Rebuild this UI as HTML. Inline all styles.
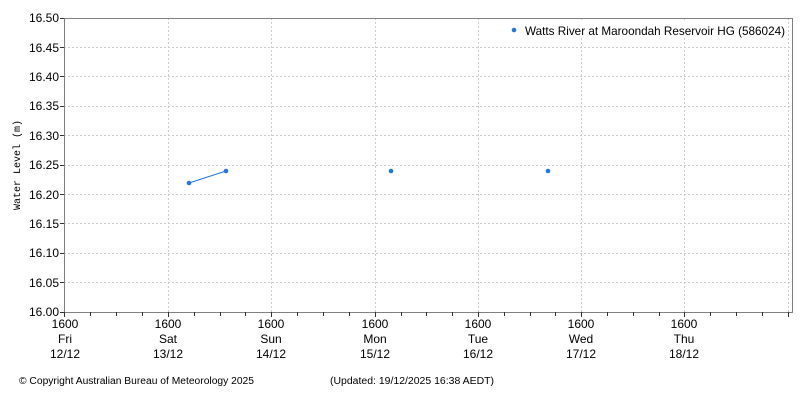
<!DOCTYPE html>
<html><head><style>body{margin:0;background:#fff}svg{display:block;font-family:"Liberation Sans",sans-serif}</style></head><body>
<svg width="800" height="400" xmlns="http://www.w3.org/2000/svg">
<g stroke="#cccccc" stroke-dasharray="2,2" stroke-width="1">
<line x1="64" x2="792" y1="47.5" y2="47.5"/><line x1="64" x2="792" y1="76.5" y2="76.5"/><line x1="64" x2="792" y1="106.5" y2="106.5"/><line x1="64" x2="792" y1="135.5" y2="135.5"/><line x1="64" x2="792" y1="165.5" y2="165.5"/><line x1="64" x2="792" y1="194.5" y2="194.5"/><line x1="64" x2="792" y1="223.5" y2="223.5"/><line x1="64" x2="792" y1="253.5" y2="253.5"/><line x1="64" x2="792" y1="282.5" y2="282.5"/>
<line x1="168.5" x2="168.5" y1="18" y2="312"/><line x1="271.5" x2="271.5" y1="18" y2="312"/><line x1="375.5" x2="375.5" y1="18" y2="312"/><line x1="478.5" x2="478.5" y1="18" y2="312"/><line x1="581.5" x2="581.5" y1="18" y2="312"/><line x1="684.5" x2="684.5" y1="18" y2="312"/><line x1="788.5" x2="788.5" y1="18" y2="312"/>
</g>
<rect x="64.5" y="18.5" width="728" height="294" fill="none" stroke="#808080"/>
<g stroke="#333">
<line x1="60" x2="64" y1="18.5" y2="18.5"/><line x1="60" x2="64" y1="47.5" y2="47.5"/><line x1="60" x2="64" y1="76.5" y2="76.5"/><line x1="60" x2="64" y1="106.5" y2="106.5"/><line x1="60" x2="64" y1="135.5" y2="135.5"/><line x1="60" x2="64" y1="165.5" y2="165.5"/><line x1="60" x2="64" y1="194.5" y2="194.5"/><line x1="60" x2="64" y1="223.5" y2="223.5"/><line x1="60" x2="64" y1="253.5" y2="253.5"/><line x1="60" x2="64" y1="282.5" y2="282.5"/><line x1="60" x2="64" y1="312.5" y2="312.5"/>
<line x1="64.5" x2="64.5" y1="312" y2="317"/><line x1="90.5" x2="90.5" y1="312" y2="316"/><line x1="116.5" x2="116.5" y1="312" y2="316"/><line x1="142.5" x2="142.5" y1="312" y2="316"/>
<line x1="168.5" x2="168.5" y1="312" y2="317"/><line x1="194.5" x2="194.5" y1="312" y2="316"/><line x1="220.5" x2="220.5" y1="312" y2="316"/><line x1="245.5" x2="245.5" y1="312" y2="316"/>
<line x1="271.5" x2="271.5" y1="312" y2="317"/><line x1="297.5" x2="297.5" y1="312" y2="316"/><line x1="323.5" x2="323.5" y1="312" y2="316"/><line x1="349.5" x2="349.5" y1="312" y2="316"/>
<line x1="375.5" x2="375.5" y1="312" y2="317"/><line x1="401.5" x2="401.5" y1="312" y2="316"/><line x1="426.5" x2="426.5" y1="312" y2="316"/><line x1="452.5" x2="452.5" y1="312" y2="316"/>
<line x1="478.5" x2="478.5" y1="312" y2="317"/><line x1="504.5" x2="504.5" y1="312" y2="316"/><line x1="530.5" x2="530.5" y1="312" y2="316"/><line x1="555.5" x2="555.5" y1="312" y2="316"/>
<line x1="581.5" x2="581.5" y1="312" y2="317"/><line x1="607.5" x2="607.5" y1="312" y2="316"/><line x1="633.5" x2="633.5" y1="312" y2="316"/><line x1="659.5" x2="659.5" y1="312" y2="316"/>
<line x1="684.5" x2="684.5" y1="312" y2="317"/><line x1="710.5" x2="710.5" y1="312" y2="316"/><line x1="736.5" x2="736.5" y1="312" y2="316"/><line x1="762.5" x2="762.5" y1="312" y2="316"/>
<line x1="788.5" x2="788.5" y1="312" y2="317"/>
</g>
<g font-size="12" fill="#000" text-anchor="end">
<text x="59" y="22">16.50</text><text x="59" y="52">16.45</text><text x="59" y="81">16.40</text><text x="59" y="110">16.35</text><text x="59" y="140">16.30</text><text x="59" y="169">16.25</text><text x="59" y="199">16.20</text><text x="59" y="228">16.15</text><text x="59" y="257">16.10</text><text x="59" y="287">16.05</text><text x="59" y="316">16.00</text>
</g>
<text transform="translate(20,165) rotate(-90)" font-size="10" font-family="Liberation Mono,monospace" text-anchor="middle">Water Level (m)</text>
<g font-size="12" text-anchor="middle">
<text x="65" y="328">1600</text><text x="65" y="343">Fri</text><text x="65" y="358">12/12</text>
<text x="168" y="328">1600</text><text x="168" y="343">Sat</text><text x="168" y="358">13/12</text>
<text x="271" y="328">1600</text><text x="271" y="343">Sun</text><text x="271" y="358">14/12</text>
<text x="375" y="328">1600</text><text x="375" y="343">Mon</text><text x="375" y="358">15/12</text>
<text x="478" y="328">1600</text><text x="478" y="343">Tue</text><text x="478" y="358">16/12</text>
<text x="581" y="328">1600</text><text x="581" y="343">Wed</text><text x="581" y="358">17/12</text>
<text x="684" y="328">1600</text><text x="684" y="343">Thu</text><text x="684" y="358">18/12</text>
</g>
<g font-size="10"><text x="19" y="384" textLength="235" lengthAdjust="spacingAndGlyphs">© Copyright Australian Bureau of Meteorology 2025</text><text x="330" y="384" textLength="164" lengthAdjust="spacingAndGlyphs">(Updated: 19/12/2025 16:38 AEDT)</text></g>
<line x1="189" y1="183" x2="226" y2="171" stroke="#1e78e0"/>
<g fill="#1e78e0"><circle cx="189" cy="183" r="2.3"/><circle cx="226" cy="171" r="2.3"/><circle cx="391" cy="171" r="2.3"/><circle cx="548" cy="171" r="2.3"/><circle cx="514" cy="30" r="2.3"/></g>
<rect x="523" y="22" width="264" height="16" fill="#fff"/>
<text x="525" y="35" font-size="12" textLength="260" lengthAdjust="spacingAndGlyphs">Watts River at Maroondah Reservoir HG (586024)</text>
</svg>
</body></html>
